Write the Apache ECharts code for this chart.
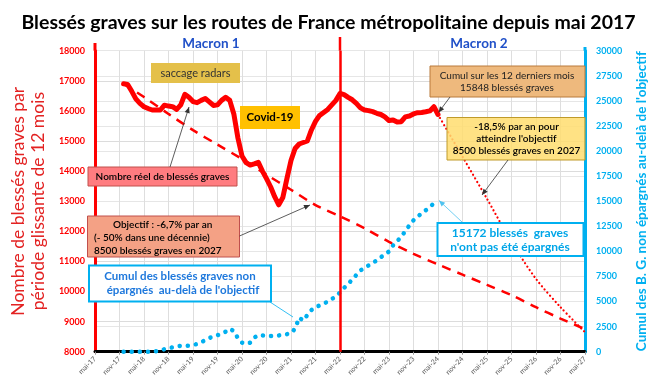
<!DOCTYPE html>
<html><head><meta charset="utf-8">
<script src="https://cdn.jsdelivr.net/npm/echarts@6/dist/echarts.min.js"></script>
<style>html,body{margin:0;padding:0;background:#fff}#c{width:657px;height:384px}</style>
</head><body><div id="c"></div>
<script>
// ---- DATA ----
const tickLabels = ['mai-17','nov-17','mai-18','nov-18','mai-19','nov-19','mai-20','nov-20','mai-21','nov-21','mai-22','nov-22','mai-23','nov-23','mai-24','nov-24','mai-25','nov-25','mai-26','nov-26','mai-27'];
const seriesStartMonth = 7; // déc-17 (months counted from mai-17)
const reelValues = [
  16900,16880,16650,16400,16250,16140,16080,16030,16030,16030,
  16190,16160,16140,16050,16200,16550,16450,16310,16275,16350,
  16410,16300,16180,16200,16350,16450,16350,15900,15100,14500,
  14280,14200,14240,14290,14000,13750,13480,13150,12880,13120,
  13750,14350,14750,14900,14950,15000,15366,15650,15850,15950,
  16050,16200,16350,16580,16540,16450,16370,16250,16100,16030,
  16010,15975,15920,15880,15800,15680,15700,15630,15640,15800,
  15830,15900,15940,15950,15970,16000,16140,15880
];
const cumulValues = [
  0,0,0,0,0,0,0,0,50,150,
  250,350,430,520,590,600,600,680,760,950,
  1150,1350,1550,1650,1760,2000,2280,2050,1350,900,
  780,900,1400,1660,1620,1590,1570,1580,1620,1680,
  1750,1850,2300,3400,3100,3650,4150,4450,4600,4800,
  4980,5250,5500,5900,6350,6750,7200,7650,8100,8350,
  8600,8830,9100,9430,9650,10000,10600,11000,11500,12000,
  12600,13100,13450,13800,14100,14400,14800,15172
];
const objectifMonths = [7,12,18,24,30,36,42,48,54,60,66,72,78,84,90,96,102,108,114,120];
const objectifValues = [16900,16460,15900,15360,14880,14400,13880,13380,12870,12500,12100,11650,11250,10900,10560,10220,9880,9480,9100,8750];
const projectionMonths = [84,90,96,102,108,114,120];
const projectionValues = [15880,14480,13080,11650,10420,9480,8650];
const mandatChangeMonth = 60; // mai-22

// ---- BUILD ----
const FF = 'Lato';
const RED = '#FF0000';
const BLUE = '#00B0F0';
const pair = (months, vals) => vals.map((v, i) => [months[i], v]);
const seq = (start, vals) => vals.map((v, i) => [start + i, v]);

const chart = echarts.init(document.getElementById('c'), null, {renderer: 'canvas'});

const option = {
  animation: false,
  backgroundColor: '#fff',
  title: {
    text: 'Blessés graves sur les routes de France métropolitaine depuis mai 2017',
    left: 'center', top: 8,
    textStyle: {fontFamily: FF, fontSize: 19.5, fontWeight: 'bold', color: '#000'}
  },
  grid: {left: 87, right: 72, top: 50.7, bottom: 32.3},
  xAxis: {
    type: 'value', min: 0, max: 120, interval: 6,
    axisLine: {show: true, onZero: false, lineStyle: {color: '#000', width: 3}},
    axisTick: {show: true, length: 3, lineStyle: {color: '#999'}},
    axisLabel: {
      rotate: 45, fontSize: 7, color: '#595959', fontFamily: FF, margin: 6,
      formatter: v => tickLabels[Math.round(v / 6)] || ''
    },
    splitLine: {show: true, lineStyle: {color: '#DEDEDE', width: 1}}
  },
  yAxis: [
    {
      type: 'value', min: 8000, max: 18000, interval: 1000, position: 'left',
      axisLine: {show: true, lineStyle: {color: RED, width: 3}},
      axisTick: {show: false},
      axisLabel: {color: RED, fontSize: 9, fontWeight: 'bold', fontFamily: FF, margin: 10, formatter: v => String(v)},
      splitLine: {show: true, lineStyle: {color: '#DCDCDC', width: 1}},
      name: 'Nombre de blessés graves par\npériode glissante de 12 mois',
      nameLocation: 'middle', nameGap: 47,
      nameTextStyle: {color: '#E32222', fontSize: 17.5, fontFamily: FF, lineHeight: 20}
    },
    {
      type: 'value', min: 0, max: 30000, interval: 2500, position: 'right',
      axisLine: {show: true, lineStyle: {color: BLUE, width: 3}},
      axisTick: {show: false},
      axisLabel: {color: BLUE, fontSize: 9, fontWeight: 'bold', fontFamily: FF, margin: 11, formatter: v => String(v)},
      splitLine: {show: true, lineStyle: {color: '#E6E6E6', width: 1}},
      name: "Cumul des B. G. non épargnés au-delà de l'objectif",
      nameLocation: 'middle', nameGap: 50,
      nameTextStyle: {color: BLUE, fontSize: 13.5, fontWeight: 'bold', fontFamily: FF}
    }
  ],
  series: [
    {
      name: 'cumul', type: 'line', yAxisIndex: 1, data: seq(seriesStartMonth, cumulValues),
      symbol: 'none', z: 3,
      lineStyle: {color: BLUE, width: 4.5, type: [0.1, 8], cap: 'round'}
    },
    {
      name: 'objectif', type: 'line', yAxisIndex: 0, data: pair(objectifMonths, objectifValues),
      symbol: 'none', smooth: 0.3, z: 4,
      lineStyle: {color: RED, width: 2.5, type: [9, 7]}
    },
    {
      name: 'projection', type: 'line', yAxisIndex: 0, data: pair(projectionMonths, projectionValues),
      symbol: 'none', smooth: 0.3, z: 4,
      lineStyle: {color: RED, width: 2.2, type: [0.1, 4], cap: 'round'}
    },
    {
      name: 'reel', type: 'line', yAxisIndex: 0, data: seq(seriesStartMonth, reelValues),
      symbol: 'none', z: 6,
      lineStyle: {color: RED, width: 5, join: 'round', cap: 'round'},
      markLine: {
        silent: true, symbol: 'none', label: {show: false},
        lineStyle: {color: RED, width: 2.5, type: 'solid'},
        data: [{xAxis: mandatChangeMonth}]
      }
    }
  ]
};
chart.setOption(option);

// ---- ANNOTATIONS ----
function rect(x, y, w, h, fill, stroke, lw) {
  return {type: 'rect', shape: {x, y, width: w, height: h}, style: {fill, stroke: stroke || null, lineWidth: lw || 0}, z: 100};
}
function txt(x, y, s, o) {
  o = o || {};
  return {type: 'text', x, y, z: 101, style: {
    text: s, fill: o.color || '#000', align: o.align || 'center', verticalAlign: 'middle',
    font: (o.weight || 'normal') + ' ' + (o.size || 10) + 'px ' + FF
  }};
}
function arrow(x1, y1, x2, y2, color, lw, head) {
  const els = [{type: 'line', shape: {x1, y1, x2, y2}, style: {stroke: color, lineWidth: lw}, z: 102}];
  if (head) {
    const a = Math.atan2(y2 - y1, x2 - x1), L = 6, W = 2.6;
    const bx = x2 - L * Math.cos(a), by = y2 - L * Math.sin(a);
    els.push({type: 'polygon', z: 103, shape: {points: [[x2, y2],
      [bx + W * Math.sin(a), by - W * Math.cos(a)], [bx - W * Math.sin(a), by + W * Math.cos(a)]]},
      style: {fill: color}});
  }
  return els;
}

const pL = chart.convertToPixel({xAxisIndex: 0, yAxisIndex: 0}, [0, 18000]);
const pM = chart.convertToPixel({xAxisIndex: 0, yAxisIndex: 0}, [mandatChangeMonth, 18000]);
const pR = chart.convertToPixel({xAxisIndex: 0, yAxisIndex: 0}, [120, 18000]);

const g = [
  {type: 'line', shape: {x1: pL[0], y1: 43, x2: pL[0], y2: pL[1]}, style: {stroke: RED, lineWidth: 3}, z: 50},
  {type: 'line', shape: {x1: pM[0], y1: 37, x2: pM[0], y2: pM[1]}, style: {stroke: RED, lineWidth: 2.5}, z: 50},
  {type: 'line', shape: {x1: pR[0], y1: 47, x2: pR[0], y2: pR[1]}, style: {stroke: BLUE, lineWidth: 3}, z: 50},
  txt(211, 44, 'Macron 1', {size: 13.5, weight: 'bold', color: '#2050C8'}),
  txt(479, 44, 'Macron 2', {size: 13.5, weight: 'bold', color: '#2050C8'}),

  rect(151, 63, 89, 20, '#E4C04A'),
  txt(195.5, 73, 'saccage radars', {size: 11, color: '#333'}),

  rect(240, 106, 60, 23, '#FFC000'),
  txt(270, 117.5, 'Covid-19', {size: 11.5, weight: 'bold'}),

  rect(88, 167, 149, 19, '#FF7C80', '#C0504D', 1),
  txt(162.5, 176.5, 'Nombre réel de blessés graves', {size: 10, weight: '600'}),
  ...arrow(170, 167, 189, 107, '#333', 0.8, true),

  rect(87.5, 216, 152, 41, '#F4A185', '#C0504D', 1),
  txt(113, 225, 'Objectif : -6,7% par an', {size: 10, weight: '600', align: 'left'}),
  txt(94, 238, '(- 50% dans une décennie)', {size: 10, weight: '600', align: 'left'}),
  txt(94, 250.5, '8500 blessés graves en 2027', {size: 10, weight: '600', align: 'left'}),
  ...arrow(239.5, 236, 310, 205, '#333', 0.8, true),

  rect(89, 265.5, 182, 36, '#fff', BLUE, 2),
  txt(180, 276, 'Cumul des blessés graves non', {size: 11.5, weight: 'bold', color: '#1E78DC'}),
  txt(183, 290.5, "épargnés  au-delà de l'objectif", {size: 11.5, weight: 'bold', color: '#1E78DC'}),
  ...arrow(270, 302, 293, 317, BLUE, 0.8, false),

  rect(430, 66, 155, 31, '#EEB97D', '#B97A3C', 1),
  txt(507, 75.5, 'Cumul sur les 12 derniers mois', {size: 10, color: '#222'}),
  txt(507, 87.5, '15848 blessés graves', {size: 10, color: '#222'}),
  ...arrow(450, 97, 438.5, 112.5, '#333', 0.8, true),

  {type: 'rect', shape: {x: 447, y: 117.5, width: 138, height: 42.5}, style: {fill: 'rgba(255,221,110,0.85)', stroke: '#BF9A2A', lineWidth: 1}, z: 100},
  txt(516.5, 126.5, '-18,5% par an pour', {size: 10, weight: '600'}),
  txt(516.5, 138.5, "atteindre l'objectif", {size: 10, weight: '600'}),
  txt(516.5, 150.5, '8500 blessés graves en 2027', {size: 10, weight: '600'}),
  ...arrow(508, 160, 482, 195, '#333', 0.8, true),

  rect(437.5, 223, 146, 33, '#fff', BLUE, 2),
  txt(510, 233, '15172 blessés  graves', {size: 12, weight: 'bold', color: '#00A6E8'}),
  txt(510, 247, "n'ont pas été épargnés", {size: 12, weight: 'bold', color: '#00A6E8'}),
  ...arrow(462, 222, 439, 200.5, '#4FC3F0', 0.8, true)
];
chart.setOption({graphic: g});
</script></body></html>
